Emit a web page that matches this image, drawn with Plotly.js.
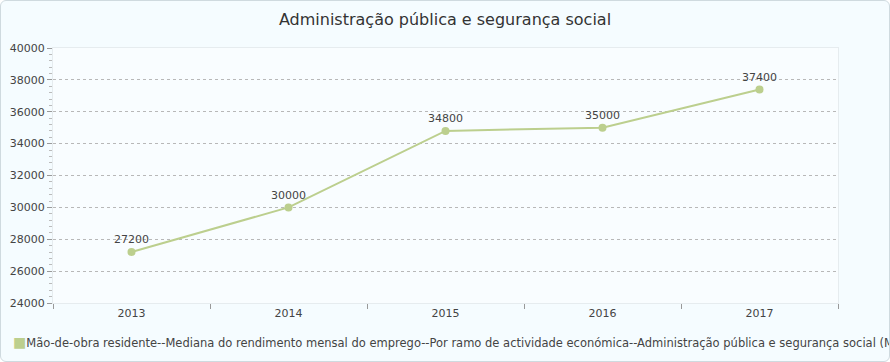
<!DOCTYPE html>
<html><head><meta charset="utf-8">
<script src="https://cdn.plot.ly/plotly-3.0.1.min.js"></script>
<style>
html,body{margin:0;padding:0;background:#fff;}
#wrap{position:absolute;left:0;top:0;width:888px;height:360px;border:1px solid #cfdadf;border-radius:6px;overflow:hidden;background:#f5fcff;}
#chart{width:888px;height:360px;}
</style></head>
<body><div id="wrap"><div id="chart"></div></div>
<script>
const years = ['2013','2014','2015','2016','2017'];
const values = [27200, 30000, 34800, 35000, 37400];
const seriesName = 'Mão-de-obra residente--Mediana do rendimento mensal do emprego--Por ramo de actividade económica--Administração pública e segurança social (MOP)';
const chartTitle = 'Administração pública e segurança social';
const lineColor = '#bccf8e';

const font = "Verdana, 'DejaVu Sans', sans-serif";
Plotly.newPlot('chart', [{
  x: years, y: values, type: 'scatter', mode: 'lines+markers+text',
  name: seriesName,
  text: values.map(String), textposition: 'top center',
  textfont: {family: font, size: 11, color: '#444'},
  line: {color: lineColor, width: 2},
  marker: {color: lineColor, size: 8},
  cliponaxis: false, showlegend: false
}], {
  width: 888, height: 360,
  paper_bgcolor: 'rgba(0,0,0,0)', plot_bgcolor: '#f9fdff',
  margin: {l: 52, r: 51, t: 47, b: 58, autoexpand: false},
  title: {text: chartTitle, x: 0.5, xanchor: 'center', y: 0.965, yanchor: 'top',
          font: {family: font, size: 16, color: '#333'}},
  xaxis: {type: 'category', range: [-0.5, 4.5], showgrid: false,
          showline: true, linecolor: '#e6ecef', linewidth: 1, mirror: true,
          ticks: 'outside', ticklen: 5, tickcolor: '#999', tickson: 'boundaries',
          tickfont: {family: font, size: 11, color: '#444'}, zeroline: false},
  yaxis: {range: [24000, 40000], dtick: 2000, tickformat: 'd', showgrid: true, gridcolor: '#b8b8b8',
          griddash: 'dot', gridwidth: 1,
          showline: true, linecolor: '#e6ecef', mirror: true,
          ticks: 'outside', ticklen: 5, tickcolor: '#999',
          minor: {dtick: 400, ticks: 'outside', ticklen: 3, tickcolor: '#bbb', showgrid: false},
          tickfont: {family: font, size: 11, color: '#444'}, zeroline: false},
  showlegend: false,
  annotations: [{
    xref: 'paper', yref: 'paper', x: (11 - 53) / 784, y: -(342 - 303) / 255,
    xanchor: 'left', yanchor: 'middle', showarrow: false, align: 'left',
    text: '<span style="color:' + lineColor + ';font-size:14px">■</span>' + seriesName,
    font: {family: font, size: 11.5, color: '#444'}
  }]
}, {displayModeBar: false, staticPlot: true});
</script></body></html>
